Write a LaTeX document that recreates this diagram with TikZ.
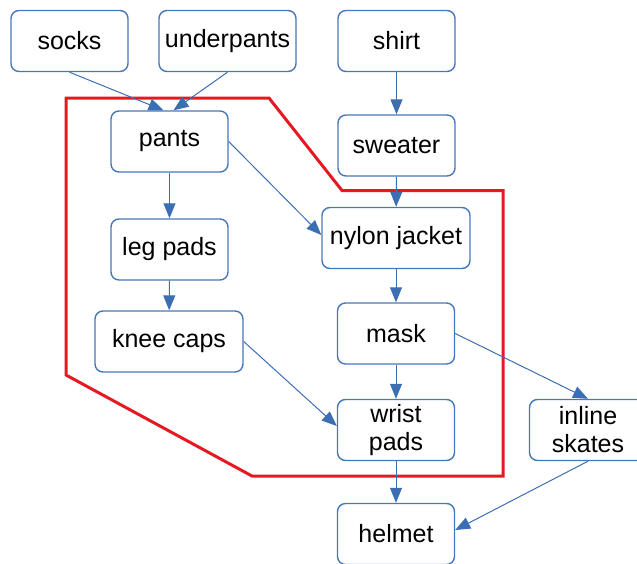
\documentclass[tikz,border=0pt]{standalone}
\usepackage{fontspec}
\setmainfont{Liberation Sans}
\usetikzlibrary{arrows.meta,calc}
\definecolor{nodeblue}{RGB}{70,120,185}
\definecolor{edgeblue}{RGB}{60,110,180}
\definecolor{hullred}{RGB}{230,25,35}
\begin{document}
\begin{tikzpicture}[x=1pt,y=-1pt,
 box/.style={draw=nodeblue, line width=1.4pt, rounded corners=8pt, minimum width=117pt, minimum height=61pt, font=\fontsize{25}{28}\selectfont, align=center, inner sep=1pt},
 wide/.style={box, minimum width=148pt},
 conn/.style={draw=edgeblue, line width=1pt, -{Triangle[length=15pt,width=12pt]}},
 hull/.style={draw=hullred, line width=3pt}
]
\useasboundingbox (0,0) rectangle (637,563);
\draw[hull] (66,98) -- (269,98) -- (342,190.5) -- (503,190.5) -- (503,476) -- (252,476) -- (66,375) -- cycle;

\node[box] (socks) at (69.5,41) {socks};
\node[box, minimum width=137pt] (under) at (227.5,41) {underpants};
\node[box] (shirt) at (396.5,41) {shirt};
\node[box] (pants) at (169.5,141.5) {pants};
\node[box] (sweater) at (396.5,145.5) {sweater};
\node[box] (legpads) at (169.5,249.5) {leg pads};
\node[wide] (nylon) at (396,238) {nylon jacket};
\node[wide] (knee) at (169,341.5) {knee caps};
\node[box] (mask) at (396,333.5) {mask};
\node[box] (wrist) at (396,430) {wrist\\pads};
\node[box] (inline) at (588,430) {inline\\skates};
\node[box] (helmet) at (396,534) {helmet};

\draw[conn] (socks.south) -- ($(pants.north)+(-6,0)$);
\draw[conn] (under.south) -- ($(pants.north)+(4,0)$);
\draw[conn] (shirt) -- (sweater);
\draw[conn] (pants) -- (legpads);
\draw[conn] (pants.east) -- ($(nylon.west)+(0,-3)$);
\draw[conn] (sweater) -- (nylon);
\draw[conn] (legpads) -- (knee);
\draw[conn] (nylon) -- (mask);
\draw[conn] (mask) -- (wrist);
\draw[conn] (knee.east) -- ($(wrist.west)+(0,-4)$);
\draw[conn] (mask.east) -- (inline.north);
\draw[conn] (wrist) -- (helmet);
\draw[conn] (inline.south) -- ($(helmet.east)+(0,-4)$);
\end{tikzpicture}
\end{document}
